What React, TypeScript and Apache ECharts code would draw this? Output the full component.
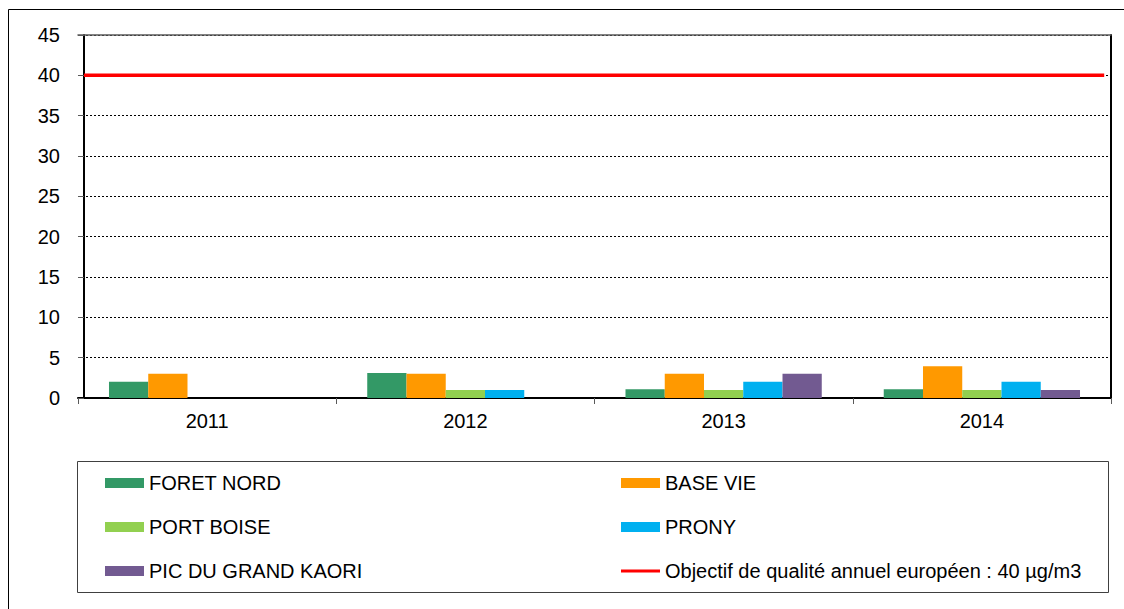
import React, { useEffect, useRef } from "react";
import * as echarts from "echarts";

const years = ["2011", "2012", "2013", "2014"];
const foretNord = [2, 3.1, 1.1, 1.1];
const baseVie = [3, 3, 3, 3.95];
const portBoise = [null, 1, 1, 1];
const prony = [null, 1, 2, 2];
const picDuGrandKaori = [null, null, 3, 1];
const objectif = [40, 40, 40, 40];
const yTicks = { min: 0, max: 45, interval: 5 };

const OBJ_NAME = "Objectif de qualité annuel européen : 40 µg/m3";
const FONT = "'Liberation Sans', Arial, sans-serif";
const FS = 20;

export default function App() {
  const ref = useRef<HTMLDivElement>(null);
  useEffect(() => {
    if (!ref.current) return;
    const chart = echarts.init(ref.current, null, { renderer: "svg" });
    const barSeries = [
      { name: "FORET NORD", data: foretNord, color: "#339966" },
      { name: "BASE VIE", data: baseVie, color: "#FF9900" },
      { name: "PORT BOISE", data: portBoise, color: "#92D050" },
      { name: "PRONY", data: prony, color: "#00B0F0" },
      { name: "PIC DU GRAND KAORI", data: picDuGrandKaori, color: "#725A91" },
    ].map((s) => ({
      type: "bar",
      name: s.name,
      data: s.data,
      itemStyle: { color: s.color },
      barGap: "0%",
      barCategoryGap: "24%",
      xAxisIndex: 0,
      yAxisIndex: 0,
    }));
    const legendCommon = {
      orient: "vertical",
      top: 473,
      padding: 0,
      itemWidth: 39,
      itemHeight: 10,
      itemGap: 24,
      textStyle: { fontFamily: FONT, fontSize: FS, color: "#000", lineHeight: 20 },
      selectedMode: false,
    };
    chart.setOption({
      animation: false,
      textStyle: { fontFamily: FONT },
      grid: { left: 78, top: 35, right: 13, bottom: 211, containLabel: false },
      xAxis: [
        {
          type: "category",
          data: years,
          position: "bottom",
          axisLine: { show: true, lineStyle: { color: "#000", width: 2 } },
          axisTick: { show: true, length: 6, lineStyle: { color: "#595959", width: 1 } },
          axisLabel: { fontFamily: FONT, fontSize: FS, color: "#000", margin: 13 },
          splitLine: { show: false },
        },
        {
          type: "value",
          position: "top",
          min: -0.0176,
          max: 3.02,
          axisLine: { show: true, onZero: false, lineStyle: { color: "#595959", width: 1.5 } },
          axisTick: { show: false },
          axisLabel: { show: false },
          splitLine: { show: false },
        },
      ],
      yAxis: [
        {
          type: "value",
          min: yTicks.min,
          max: yTicks.max,
          interval: yTicks.interval,
          axisLine: { show: true, lineStyle: { color: "#000", width: 2 } },
          axisTick: { show: true, length: 6, lineStyle: { color: "#595959", width: 1 } },
          axisLabel: { fontFamily: FONT, fontSize: FS, color: "#000", margin: 18 },
          splitLine: { show: true, lineStyle: { color: "#000", type: [2, 2], width: 1 } },
        },
        {
          type: "value",
          position: "right",
          min: yTicks.min,
          max: yTicks.max,
          interval: yTicks.interval,
          axisLine: { show: true, lineStyle: { color: "#000", width: 2 } },
          axisTick: { show: false },
          axisLabel: { show: false },
          splitLine: { show: false },
        },
      ],
      legend: [
        {
          ...legendCommon,
          left: 105,
          data: [
            { name: "FORET NORD", icon: "rect" },
            { name: "PORT BOISE", icon: "rect" },
            { name: "PIC DU GRAND KAORI", icon: "rect" },
          ],
        },
        {
          ...legendCommon,
          left: 621,
          data: [
            { name: "BASE VIE", icon: "rect" },
            { name: "PRONY", icon: "rect" },
            { name: OBJ_NAME, icon: "path://M0,0 L39,0 L39,3 L0,3 Z" },
          ],
        },
      ],
      series: [
        ...barSeries,
        {
          type: "line",
          name: OBJ_NAME,
          xAxisIndex: 1,
          yAxisIndex: 0,
          data: objectif.map((v, i) => [i, v]),
          symbol: "none",
          lineStyle: { color: "#FF0000", width: 3.5 },
          itemStyle: { color: "#FF0000" },
          z: 5,
        },
      ],
      graphic: [
        {
          type: "rect",
          shape: { x: 77.5, y: 461.5, width: 1031, height: 131 },
          style: { fill: "none", stroke: "#404040", lineWidth: 1 },
          silent: true,
        },
        {
          type: "polyline",
          shape: { points: [[8.5, 609], [8.5, 9.5], [1124, 9.5]] },
          style: { fill: "none", stroke: "#000", lineWidth: 1 },
          silent: true,
        },
      ],
    });
    return () => chart.dispose();
  }, []);
  return (
    <div
      ref={ref}
      style={{ position: "absolute", left: 0, top: 0, width: 1124, height: 609, background: "#fff" }}
    />
  );
}
